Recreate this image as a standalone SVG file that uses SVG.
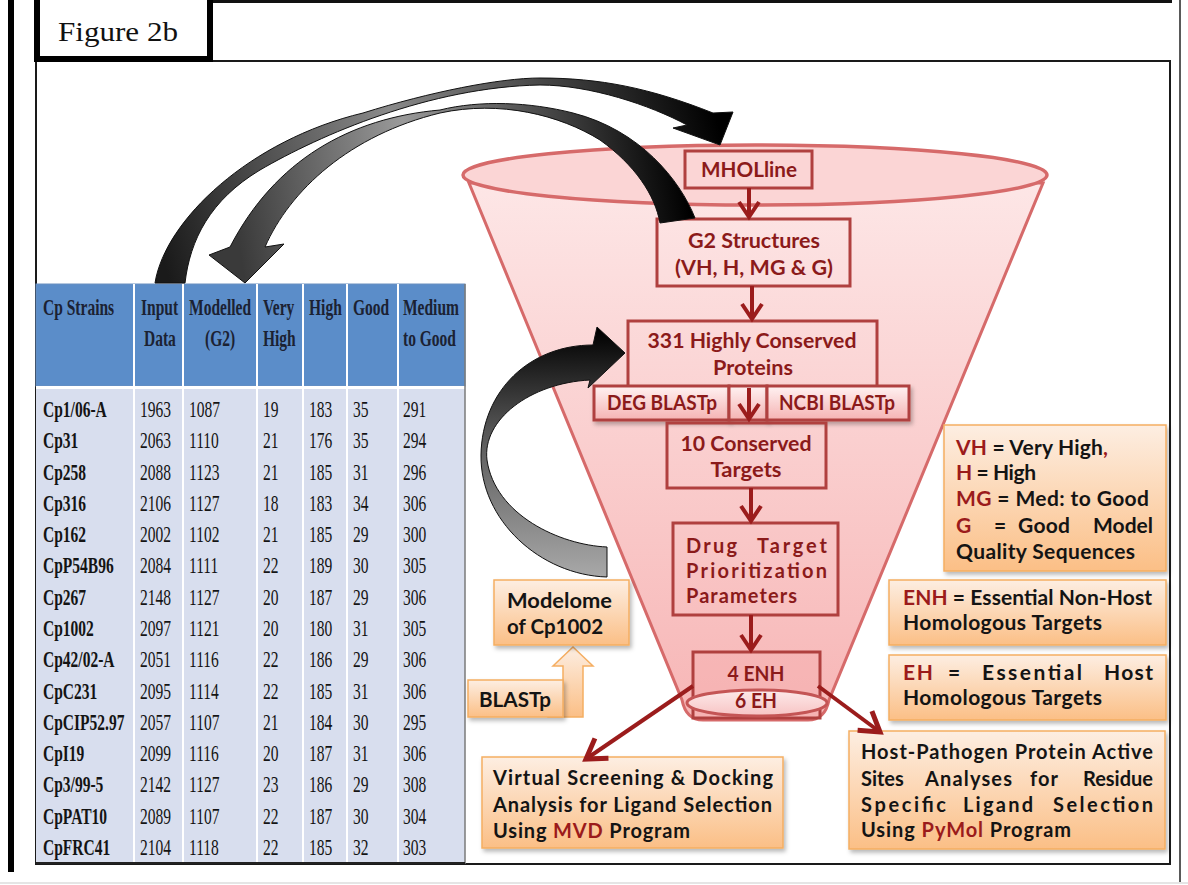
<svg xmlns="http://www.w3.org/2000/svg" width="1188" height="885" viewBox="0 0 1188 885">
<defs>
<style>
.tb{font-family:"Liberation Serif","Times New Roman",serif;font-size:23px;fill:#141414}
.tbh{font-weight:bold;fill:#1b2233}
.bd{font-weight:bold}
.fl{font-family:Lato,"Open Sans","Liberation Sans",sans-serif;font-weight:700;font-size:20px;fill:#8b1a1a}
.ob{font-family:Lato,"Open Sans","Liberation Sans",sans-serif;font-weight:700;font-size:20px;fill:#141414}
.lg{font-size:21px}
.rd{fill:#9b1b1b}
.fbox{fill:none;stroke:#b0403f;stroke-width:3}
.gbox{fill:url(#pg);stroke:#b0403f;stroke-width:3;filter:url(#sh)}
.obox{fill:url(#og);stroke:#f5ae62;stroke-width:1.5;filter:url(#sh)}
.flow{stroke:#9b1c1c;stroke-width:4;fill:none}
.carrow{stroke:#111;stroke-width:1}
</style>
<linearGradient id="fg" x1="0" y1="0" x2="0" y2="1">
<stop offset="0" stop-color="#fde6e6"/><stop offset="1" stop-color="#f7b6b6"/>
</linearGradient>
<linearGradient id="pg" x1="0" y1="0" x2="0" y2="1">
<stop offset="0" stop-color="#fff2f2"/><stop offset="1" stop-color="#f5b3b3"/>
</linearGradient>
<linearGradient id="eg" x1="0" y1="0" x2="0" y2="1">
<stop offset="0" stop-color="#fde9e9"/><stop offset="1" stop-color="#f7c4c4"/>
</linearGradient>
<linearGradient id="og" x1="0" y1="0" x2="0" y2="1">
<stop offset="0" stop-color="#fdeee2"/><stop offset="1" stop-color="#fbbf86"/>
</linearGradient>
<linearGradient id="ag1" gradientUnits="userSpaceOnUse" x1="170" y1="283" x2="720" y2="130">
<stop offset="0" stop-color="#1a1a1a"/><stop offset="0.45" stop-color="#8a8a8a"/><stop offset="0.8" stop-color="#333"/><stop offset="1" stop-color="#000"/>
</linearGradient>
<linearGradient id="ag2" gradientUnits="userSpaceOnUse" x1="245" y1="283" x2="690" y2="215">
<stop offset="0" stop-color="#3a3a3a"/><stop offset="0.4" stop-color="#9a9a9a"/><stop offset="0.8" stop-color="#333"/><stop offset="1" stop-color="#000"/>
</linearGradient>
<linearGradient id="ag3" gradientUnits="userSpaceOnUse" x1="0" y1="330" x2="0" y2="580">
<stop offset="0" stop-color="#000"/><stop offset="0.4" stop-color="#555"/><stop offset="1" stop-color="#aaa"/>
</linearGradient>
<filter id="sh" x="-10%" y="-10%" width="130%" height="140%">
<feDropShadow dx="2" dy="3" stdDeviation="2" flood-color="#000" flood-opacity="0.28"/>
</filter>
<marker id="ah" markerUnits="userSpaceOnUse" markerWidth="24" markerHeight="24" viewBox="0 0 24 24" refX="19" refY="12" orient="auto">
<path d="M4,2 L19,12 L4,22" fill="none" stroke="#9b1c1c" stroke-width="4"/>
</marker>
<marker id="ahb" markerUnits="userSpaceOnUse" markerWidth="30" markerHeight="30" viewBox="0 0 30 30" refX="24" refY="15" orient="auto">
<path d="M5,3 L24,15 L5,27" fill="none" stroke="#9b1c1c" stroke-width="5"/>
</marker>
</defs>

<rect x="0" y="0" width="1188" height="885" fill="#fff"/>

<g id="frame">
<line x1="0" y1="883" x2="1188" y2="883" stroke="#ddd" stroke-width="1.5"/>
<line x1="212" y1="1.5" x2="1172" y2="1.5" stroke="#111" stroke-width="3"/>
<line x1="11" y1="0" x2="11" y2="872" stroke="#000" stroke-width="6"/>
<line x1="1180" y1="0" x2="1180" y2="882" stroke="#222" stroke-width="1.5"/>
<rect x="36" y="61" width="1134" height="803" fill="none" stroke="#1a1a1a" stroke-width="2"/>
</g>

<g id="figure-label">
<rect x="37" y="-4" width="173" height="63" fill="#fff" stroke="#000" stroke-width="6"/>
<text x="58" y="41" font-family="'Liberation Serif','Times New Roman',serif" font-size="28" fill="#111" textLength="120" lengthAdjust="spacingAndGlyphs">Figure 2b</text>
</g>

<g id="table">
<rect x="36" y="284" width="429" height="102" fill="#5b8dc9" stroke="#6a8fbf" stroke-width="1"/>
<rect x="36" y="389" width="429" height="475" fill="#d8deee"/>
<rect x="36" y="386" width="429" height="3" fill="#fff"/>
<g stroke="#fff" stroke-width="2">
<line x1="134" y1="284" x2="134" y2="863"/><line x1="183" y1="284" x2="183" y2="863"/>
<line x1="257" y1="284" x2="257" y2="863"/><line x1="303" y1="284" x2="303" y2="863"/>
<line x1="347" y1="284" x2="347" y2="863"/><line x1="398" y1="284" x2="398" y2="863"/>
</g>
<line x1="465" y1="284" x2="465" y2="864" stroke="#7a7a7a" stroke-width="1.5"/>
<line x1="36" y1="863" x2="465" y2="863" stroke="#222" stroke-width="2"/>
<g class="tb tbh" transform="scale(0.675,1)">
<text x="63.7" y="315">Cp Strains</text>
<text x="208.9" y="315">Input</text><text x="213.3" y="346">Data</text>
<text x="280" y="315">Modelled</text><text x="303.7" y="346">(G2)</text>
<text x="389.6" y="315">Very</text><text x="389.6" y="346">High</text>
<text x="457.8" y="315">High</text>
<text x="523" y="315">Good</text>
<text x="597" y="315">Medium</text><text x="597" y="346">to Good</text>
</g>
<g class="tb" transform="scale(0.675,1)">
<g class="bd">
<text x="63.7" y="417">Cp1/06-A</text>
<text x="63.7" y="448.3">Cp31</text>
<text x="63.7" y="479.6">Cp258</text>
<text x="63.7" y="510.9">Cp316</text>
<text x="63.7" y="542.2">Cp162</text>
<text x="63.7" y="573.5">CpP54B96</text>
<text x="63.7" y="604.7">Cp267</text>
<text x="63.7" y="636">Cp1002</text>
<text x="63.7" y="667.3">Cp42/02-A</text>
<text x="63.7" y="698.6">CpC231</text>
<text x="63.7" y="729.9">CpCIP52.97</text>
<text x="63.7" y="761.2">CpI19</text>
<text x="63.7" y="792.5">Cp3/99-5</text>
<text x="63.7" y="823.8">CpPAT10</text>
<text x="63.7" y="855.1">CpFRC41</text>
</g>
<text x="207.4" y="417">1963</text><text x="280" y="417">1087</text><text x="389.6" y="417">19</text><text x="457.8" y="417">183</text><text x="523" y="417">35</text><text x="597" y="417">291</text>
<text x="207.4" y="448.3">2063</text><text x="280" y="448.3">1110</text><text x="389.6" y="448.3">21</text><text x="457.8" y="448.3">176</text><text x="523" y="448.3">35</text><text x="597" y="448.3">294</text>
<text x="207.4" y="479.6">2088</text><text x="280" y="479.6">1123</text><text x="389.6" y="479.6">21</text><text x="457.8" y="479.6">185</text><text x="523" y="479.6">31</text><text x="597" y="479.6">296</text>
<text x="207.4" y="510.9">2106</text><text x="280" y="510.9">1127</text><text x="389.6" y="510.9">18</text><text x="457.8" y="510.9">183</text><text x="523" y="510.9">34</text><text x="597" y="510.9">306</text>
<text x="207.4" y="542.2">2002</text><text x="280" y="542.2">1102</text><text x="389.6" y="542.2">21</text><text x="457.8" y="542.2">185</text><text x="523" y="542.2">29</text><text x="597" y="542.2">300</text>
<text x="207.4" y="573.5">2084</text><text x="280" y="573.5">1111</text><text x="389.6" y="573.5">22</text><text x="457.8" y="573.5">189</text><text x="523" y="573.5">30</text><text x="597" y="573.5">305</text>
<text x="207.4" y="604.7">2148</text><text x="280" y="604.7">1127</text><text x="389.6" y="604.7">20</text><text x="457.8" y="604.7">187</text><text x="523" y="604.7">29</text><text x="597" y="604.7">306</text>
<text x="207.4" y="636">2097</text><text x="280" y="636">1121</text><text x="389.6" y="636">20</text><text x="457.8" y="636">180</text><text x="523" y="636">31</text><text x="597" y="636">305</text>
<text x="207.4" y="667.3">2051</text><text x="280" y="667.3">1116</text><text x="389.6" y="667.3">22</text><text x="457.8" y="667.3">186</text><text x="523" y="667.3">29</text><text x="597" y="667.3">306</text>
<text x="207.4" y="698.6">2095</text><text x="280" y="698.6">1114</text><text x="389.6" y="698.6">22</text><text x="457.8" y="698.6">185</text><text x="523" y="698.6">31</text><text x="597" y="698.6">306</text>
<text x="207.4" y="729.9">2057</text><text x="280" y="729.9">1107</text><text x="389.6" y="729.9">21</text><text x="457.8" y="729.9">184</text><text x="523" y="729.9">30</text><text x="597" y="729.9">295</text>
<text x="207.4" y="761.2">2099</text><text x="280" y="761.2">1116</text><text x="389.6" y="761.2">20</text><text x="457.8" y="761.2">187</text><text x="523" y="761.2">31</text><text x="597" y="761.2">306</text>
<text x="207.4" y="792.5">2142</text><text x="280" y="792.5">1127</text><text x="389.6" y="792.5">23</text><text x="457.8" y="792.5">186</text><text x="523" y="792.5">29</text><text x="597" y="792.5">308</text>
<text x="207.4" y="823.8">2089</text><text x="280" y="823.8">1107</text><text x="389.6" y="823.8">22</text><text x="457.8" y="823.8">187</text><text x="523" y="823.8">30</text><text x="597" y="823.8">304</text>
<text x="207.4" y="855.1">2104</text><text x="280" y="855.1">1118</text><text x="389.6" y="855.1">22</text><text x="457.8" y="855.1">185</text><text x="523" y="855.1">32</text><text x="597" y="855.1">303</text>
</g>
</g>

<g id="funnel">
<path d="M469,183 L1043,183 L829,700 Q825,720 808,720 L703,720 Q686,720 682,700 Z" fill="url(#fg)" stroke="#d66a6a" stroke-width="3"/>
<ellipse cx="755" cy="175" rx="292" ry="30" fill="#fbd5d5" stroke="#d66a6a" stroke-width="3.5"/>
</g>

<g id="n-mholline">
<rect class="fbox" x="685" y="151" width="127" height="37"/>
<text class="fl" x="749" y="177" text-anchor="middle" textLength="96" lengthAdjust="spacingAndGlyphs">MHOLline</text>
</g>
<g id="n-g2">
<rect class="fbox" x="657" y="219" width="193" height="67"/>
<text class="fl" x="754" y="248" text-anchor="middle" textLength="132" lengthAdjust="spacingAndGlyphs">G2 Structures</text>
<text class="fl" x="754" y="275" text-anchor="middle" textLength="158" lengthAdjust="spacingAndGlyphs">(VH, H, MG &amp; G)</text>
</g>
<g id="n-331">
<rect class="fbox" x="628" y="321" width="249" height="66"/>
<text class="fl" x="752" y="348" text-anchor="middle" textLength="209" lengthAdjust="spacingAndGlyphs">331 Highly Conserved</text>
<text class="fl" x="753" y="375" text-anchor="middle" textLength="80" lengthAdjust="spacingAndGlyphs">Proteins</text>
</g>
<g id="n-deg">
<rect class="gbox" x="594" y="386" width="135" height="34"/>
<text class="fl" x="662" y="410" text-anchor="middle" textLength="110" lengthAdjust="spacingAndGlyphs">DEG BLASTp</text>
</g>
<g id="n-mid">
<rect class="gbox" x="729" y="386" width="38" height="34"/>
</g>
<g id="n-ncbi">
<rect class="gbox" x="767" y="386" width="142" height="34"/>
<text class="fl" x="837" y="410" text-anchor="middle" textLength="116" lengthAdjust="spacingAndGlyphs">NCBI BLASTp</text>
</g>
<g id="n-10">
<rect class="fbox" x="667" y="423" width="159" height="65"/>
<text class="fl" x="746" y="451" text-anchor="middle" textLength="131" lengthAdjust="spacingAndGlyphs">10 Conserved</text>
<text class="fl" x="746" y="477" text-anchor="middle" textLength="71" lengthAdjust="spacingAndGlyphs">Targets</text>
</g>
<g id="n-drug">
<rect class="fbox" x="673" y="523" width="165" height="92"/>
<text class="fl" x="686" y="553" textLength="51" lengthAdjust="spacing">Drug</text>
<text class="fl" x="757" y="553" textLength="70" lengthAdjust="spacing">Target</text>
<text class="fl" x="686" y="578" textLength="141" lengthAdjust="spacing">Prioritization</text>
<text class="fl" x="686" y="603" textLength="111" lengthAdjust="spacing">Parameters</text>
</g>
<g id="n-enh">
<rect x="693" y="652" width="127" height="66" fill="#f5b0b0" fill-opacity="0.5" stroke="#b0403f" stroke-width="3"/>
<ellipse cx="757" cy="703" rx="70" ry="13" fill="url(#eg)" stroke="#c45555" stroke-width="3"/>
<text class="fl" x="756" y="681" text-anchor="middle" textLength="57" lengthAdjust="spacingAndGlyphs">4 ENH</text>
<text class="fl" x="756" y="708" text-anchor="middle" textLength="42" lengthAdjust="spacingAndGlyphs">6 EH</text>
</g>

<g id="n-blastp">
<polygon points="548,717 583,717 583,666 593,666 573,647 553,666 563,666 563,690 548,690" fill="url(#og)" stroke="#f5ae62" stroke-width="1.5"/>
<rect class="obox" x="468" y="680" width="95" height="37"/>
<text class="ob" x="479" y="707" textLength="72" lengthAdjust="spacingAndGlyphs">BLASTp</text>
</g>
<g id="n-modelome">
<rect class="obox" x="494" y="580" width="135" height="65"/>
<text class="ob" x="507" y="608" textLength="105" lengthAdjust="spacingAndGlyphs">Modelome</text>
<text class="ob" x="507" y="634" textLength="96" lengthAdjust="spacingAndGlyphs">of Cp1002</text>
</g>
<g id="n-virtual">
<rect class="obox" x="482" y="757" width="301" height="91"/>
<text class="ob" x="493" y="785" textLength="280" lengthAdjust="spacing">Virtual Screening &amp; Docking</text>
<text class="ob" x="493" y="812" textLength="279" lengthAdjust="spacing">Analysis for Ligand Selection</text>
<text class="ob" x="493" y="838" textLength="197" lengthAdjust="spacing">Using <tspan class="rd">MVD</tspan> Program</text>
</g>
<g id="n-host">
<rect class="obox" x="849" y="731" width="316" height="118"/>
<text class="ob" x="861" y="759" textLength="292" lengthAdjust="spacing">Host-Pathogen Protein Active</text>
<text class="ob" x="861" y="786">Sites</text>
<text class="ob" x="925" y="786" textLength="87" lengthAdjust="spacing">Analyses</text>
<text class="ob" x="1030" y="786" textLength="28" lengthAdjust="spacing">for</text>
<text class="ob" x="1153" y="786" text-anchor="end">Residue</text>
<text class="ob" x="861" y="812" textLength="85" lengthAdjust="spacing">Specific</text>
<text class="ob" x="963" y="812" textLength="70" lengthAdjust="spacing">Ligand</text>
<text class="ob" x="1053" y="812" textLength="100" lengthAdjust="spacing">Selection</text>
<text class="ob" x="861" y="837" textLength="210" lengthAdjust="spacing">Using <tspan class="rd">PyMol</tspan> Program</text>
</g>
<g id="legend-quality">
<rect class="obox" x="944" y="425" width="222" height="146"/>
<text class="ob lg" x="956" y="455" textLength="152" lengthAdjust="spacing"><tspan class="rd">VH</tspan> = Very High<tspan class="rd">,</tspan></text>
<text class="ob lg" x="956" y="480" textLength="80" lengthAdjust="spacing"><tspan class="rd">H</tspan> = High</text>
<text class="ob lg" x="956" y="506" textLength="193" lengthAdjust="spacing"><tspan class="rd">MG</tspan> = Med: to Good</text>
<text class="ob lg rd" x="956" y="533">G</text>
<text class="ob lg" x="994" y="533">=</text>
<text class="ob lg" x="1018" y="533" textLength="52" lengthAdjust="spacing">Good</text>
<text class="ob lg" x="1153" y="533" text-anchor="end">Model</text>
<text class="ob lg" x="956" y="559" textLength="179" lengthAdjust="spacing">Quality Sequences</text>
</g>
<g id="legend-enh">
<rect class="obox" x="889" y="580" width="277" height="65"/>
<text class="ob lg" x="903" y="605" textLength="249" lengthAdjust="spacing"><tspan class="rd">ENH</tspan> = Essential Non-Host</text>
<text class="ob lg" x="903" y="630" textLength="199" lengthAdjust="spacing">Homologous Targets</text>
</g>
<g id="legend-eh">
<rect class="obox" x="889" y="655" width="277" height="65"/>
<text class="ob lg rd" x="903" y="680" textLength="30" lengthAdjust="spacing">EH</text>
<text class="ob lg" x="948" y="680">=</text>
<text class="ob lg" x="982" y="680" textLength="100" lengthAdjust="spacing">Essential</text>
<text class="ob lg" x="1104" y="680" textLength="49" lengthAdjust="spacing">Host</text>
<text class="ob lg" x="903" y="705" textLength="199" lengthAdjust="spacing">Homologous Targets</text>
</g>

<g id="connectors">
<line class="flow" x1="749" y1="188" x2="749" y2="217" marker-end="url(#ah)"/>
<line class="flow" x1="752" y1="286" x2="752" y2="319" marker-end="url(#ah)"/>
<line class="flow" x1="749" y1="388" x2="749" y2="419" marker-end="url(#ah)"/>
<line class="flow" x1="751" y1="488" x2="751" y2="521" marker-end="url(#ah)"/>
<line class="flow" x1="751" y1="615" x2="751" y2="650" marker-end="url(#ah)"/>
<line class="flow" x1="693" y1="686" x2="586" y2="759" marker-end="url(#ahb)"/>
<line class="flow" x1="818" y1="686" x2="880" y2="732" marker-end="url(#ahb)"/>
<path class="carrow" fill="url(#ag1)" d="M155,283 C165,220 250,140 363,113 C430,92 500,78 540,78 C600,78 650,88 713,113 L733,112 L720,145 L673,128 L687,125 C650,105 590,85 540,85 C430,87 320,135 260,170 C210,200 190,240 185,283 Z"/>
<path class="carrow" fill="url(#ag2)" d="M695,218 C680,180 640,130 573,113 C530,102 480,100 440,110 C350,118 275,160 230,247 L209,255 L245,283 L284,244 L265,247 C290,190 350,135 440,113 C500,100 560,115 600,140 C635,165 655,195 660,223 Z"/>
<path class="carrow" fill="url(#ag3)" d="M607,547 C560,545 495,515 487,460 C482,420 530,383 590,380 L588,388 L625,353 L597,327 L593,345 C530,345 482,390 481,455 C480,520 540,575 607,577 Z"/>
</g>
</svg>
